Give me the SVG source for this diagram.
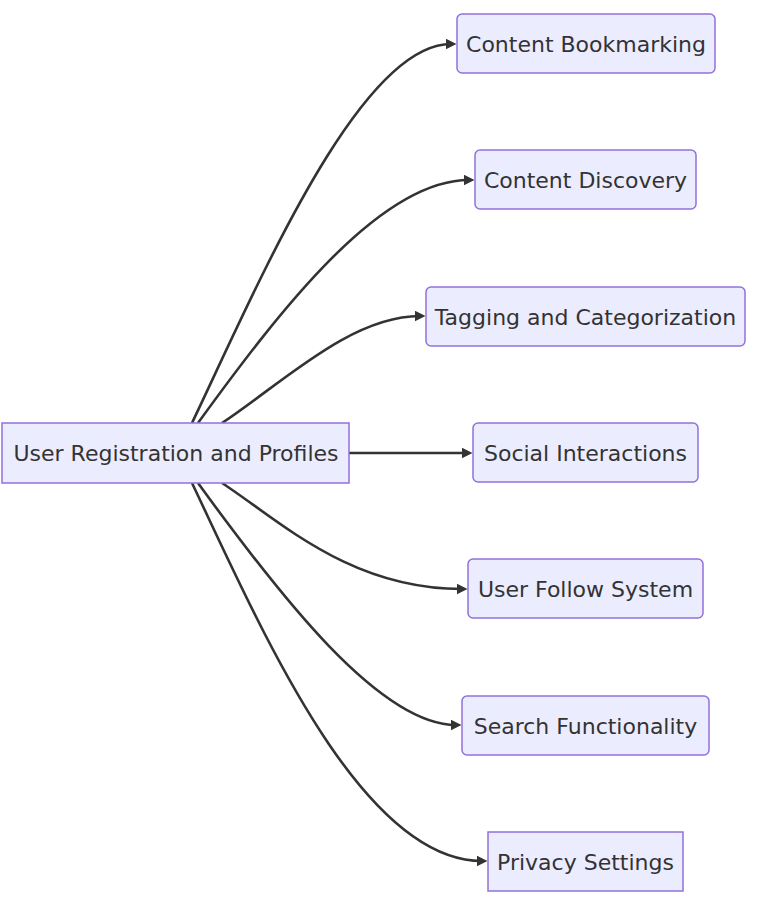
<svg xmlns="http://www.w3.org/2000/svg" width="764" height="898" viewBox="0 0 764 898">
<style>
.node rect{fill:#ECECFF;stroke:#9370DB;stroke-width:1.5}
.node text{font-family:"DejaVu Sans",sans-serif;font-size:22px;fill:#333;text-anchor:middle}
.edge{fill:none;stroke:#333;stroke-width:2.6;marker-end:url(#arrow)}
</style>
<defs>
<marker id="arrow" viewBox="0 0 10 10" refX="5" refY="5" markerWidth="11" markerHeight="11" markerUnits="userSpaceOnUse" orient="auto">
<path d="M0,0 L10,5 L0,10 z" fill="#333"/>
</marker>
</defs>
<g id="connectors">
<path class="edge" d="M192,423 C260,280 360,44 451,44"/>
<path class="edge" d="M198,423 C280,310 380,180 469,180"/>
<path class="edge" d="M222,423 C280,385 350,316 420,316"/>
<path class="edge" d="M349,453 L467,453"/>
<path class="edge" d="M222,483 C280,521 350,589 462,589"/>
<path class="edge" d="M198,483 C280,596 380,725 456,725"/>
<path class="edge" d="M192,483 C260,626 360,861 482,861"/>
</g>
<g id="main" class="node"><rect x="2" y="423" width="347" height="60"/><text x="176" y="461">User Registration and Profiles</text></g>
<g id="bookmarking" class="node"><rect x="457" y="14" width="258" height="59" rx="5"/><text x="586" y="52">Content Bookmarking</text></g>
<g id="discovery" class="node"><rect x="475" y="150" width="221" height="59" rx="5"/><text x="585.5" y="188">Content Discovery</text></g>
<g id="tagging" class="node"><rect x="426" y="287" width="319" height="59" rx="5"/><text x="585.5" y="325">Tagging and Categorization</text></g>
<g id="social" class="node"><rect x="473" y="423" width="225" height="59" rx="5"/><text x="585.5" y="461">Social Interactions</text></g>
<g id="follow" class="node"><rect x="468" y="559" width="235" height="59" rx="5"/><text x="585.5" y="597">User Follow System</text></g>
<g id="search" class="node"><rect x="462" y="696" width="247" height="59" rx="5"/><text x="585.5" y="734">Search Functionality</text></g>
<g id="privacy" class="node"><rect x="488" y="832" width="195" height="59"/><text x="585.5" y="870">Privacy Settings</text></g>
</svg>
